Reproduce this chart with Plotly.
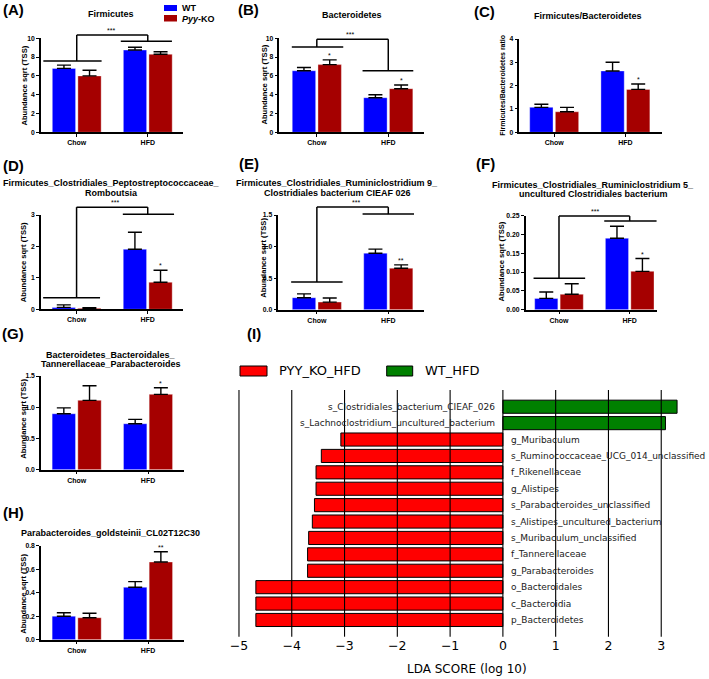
import plotly.graph_objects as go

W, H = 709, 679

# ---------------- data ----------------
categories = ["Chow", "HFD"]

firm_wt = [6.8, 8.75]
firm_wt_err = [0.35, 0.30]
firm_ko = [6.0, 8.3]
firm_ko_err = [0.60, 0.27]

bact_wt = [6.55, 3.68]
bact_wt_err = [0.35, 0.32]
bact_ko = [7.2, 4.64]
bact_ko_err = [0.50, 0.39]

ratio_wt = [1.07, 2.63]
ratio_wt_err = [0.13, 0.37]
ratio_ko = [0.88, 1.84]
ratio_ko_err = [0.19, 0.23]

romb_wt = [0.06, 1.91]
romb_wt_err = [0.08, 0.54]
romb_ko = [0.03, 0.86]
romb_ko_err = [0.02, 0.38]

rum9_wt = [0.19, 0.895]
rum9_wt_err = [0.06, 0.065]
rum9_ko = [0.12, 0.657]
rum9_ko_err = [0.065, 0.053]

rum5_wt = [0.030, 0.190]
rum5_wt_err = [0.017, 0.032]
rum5_ko = [0.041, 0.102]
rum5_ko_err = [0.028, 0.034]

parab_wt = [0.896, 0.736]
parab_wt_err = [0.094, 0.070]
parab_ko = [1.11, 1.206]
parab_ko_err = [0.234, 0.106]

gold_wt = [0.200, 0.446]
gold_wt_err = [0.030, 0.048]
gold_ko = [0.187, 0.661]
gold_ko_err = [0.038, 0.088]

lda_features = [
    "s_Clostridiales_bacterium_CIEAF_026",
    "s_Lachnoclostridium_uncultured_bacterium",
    "g_Muribaculum",
    "s_Ruminococcaceae_UCG_014_unclassified",
    "f_Rikenellaceae",
    "g_Alistipes",
    "s_Parabacteroides_unclassified",
    "s_Alistipes_uncultured_bacterium",
    "s_Muribaculum_unclassified",
    "f_Tannerellaceae",
    "g_Parabacteroides",
    "o_Bacteroidales",
    "c_Bacteroidia",
    "p_Bacteroidetes",
]
lda_scores = [3.30, 3.08, -3.07, -3.44, -3.54, -3.54, -3.57, -3.61, -3.68,
              -3.70, -3.70, -4.68, -4.68, -4.68]
lda_groups = ["WT_HFD", "WT_HFD"] + ["PYY_KO_HFD"] * 12
lda_ticks = [-5, -4, -3, -2, -1, 0, 1, 2, 3]

# ---------------- styling ----------------
BLUE = "#0000FF"
RED = "#A50000"
AR = "Liberation Sans, Arial, sans-serif"
DV = "DejaVu Sans, sans-serif"
BARGAP = 0.28
KO_OFF = (1 - BARGAP) / 4


def pxX(p):
    return p / W


def pxY(p):
    return 1 - p / H


def label(x, y, text, font, **kw):
    d = dict(x=pxX(x), y=pxY(y), xref="paper", yref="paper", text=text,
             showarrow=False, xanchor="center", yanchor="middle", font=font)
    d.update(kw)
    return d


panels = [
    dict(letter="(A)", lpos=(13, 10), title=["Firmicutes"], tpos=(110.7, 13.5),
         ytitle="Abundance sqrt (TSS)", ytpos=(23.5, 85),
         wt=firm_wt, wte=firm_wt_err, ko=firm_ko, koe=firm_ko_err,
         box=(41, 183.3, 38.3, 132.3), xr=[-0.503, 1.5], ymax=10,
         ticks=[0, 2, 4, 6, 8, 10], fmt="d", stars=[None, None],
         br=dict(c=(7.59, -0.47, 0.35), h=(9.68, -0.38, 0.34), top=10.35, sx=0.48)),
    dict(letter="(B)", lpos=(248, 10), title=["Bacteroidetes"], tpos=(351.7, 15),
         ytitle="Abundance sqrt (TSS)", ytpos=(263.5, 85),
         wt=bact_wt, wte=bact_wt_err, ko=bact_ko, koe=bact_ko_err,
         box=(279.3, 424, 38.3, 132.3), xr=[-0.525, 1.5], ymax=10,
         ticks=[0, 2, 4, 6, 8, 10], fmt="d", stars=["*", "*"],
         br=dict(c=(9.07, -0.35, 0.37), h=(6.55, -0.36, 0.35), top=9.9, sx=0.47)),
    dict(letter="(C)", lpos=(484, 11), title=["Firmicutes/Bacteroidetes"], tpos=(588.3, 16),
         ytitle="Firmicutes/Bacteroidetes ratio", ytpos=(501.7, 85), ytsize=7.0,
         wt=ratio_wt, wte=ratio_wt_err, ko=ratio_ko, koe=ratio_ko_err,
         box=(519.3, 661.7, 39, 132.3), xr=[-0.49, 1.51], ymax=4,
         ticks=[0, 1, 2, 3, 4], fmt="d", stars=[None, "*"], br=None),
    dict(letter="(D)", lpos=(13, 165),
         title=["Firmicutes_Clostridiales_Peptostreptococcaceae_", "Romboutsia"],
         tpos=(111, 183.3),
         ytitle="Abundance sqrt (TSS)", ytpos=(23.5, 261.7),
         wt=romb_wt, wte=romb_wt_err, ko=romb_ko, koe=romb_ko_err,
         box=(41, 183.3, 215, 309.3), xr=[-0.5, 1.5], ymax=3,
         ticks=[0, 1, 2, 3], fmt="d", stars=[None, "*"],
         br=dict(c=(0.37, -0.47, 0.33), h=(3.02, -0.35, 0.37), top=3.25, sx=0.54)),
    dict(letter="(E)", lpos=(248.5, 163.5),
         title=["Firmicutes_Clostridiales_Ruminiclostridium 9_",
                "Clostridiales bacterium CIEAF 026"],
         tpos=(337.3, 183.3),
         ytitle="Abundance sqrt (TSS)", ytpos=(263.5, 258.3),
         wt=rum9_wt, wte=rum9_wt_err, ko=rum9_ko, koe=rum9_ko_err,
         box=(278.3, 424, 215, 309.7), xr=[-0.54, 1.5], ymax=1.5,
         ticks=[0, 0.5, 1.0, 1.5], fmt=".1f", stars=[None, "**"],
         br=dict(c=(0.44, -0.36, 0.36), h=(1.514, -0.36, 0.36), top=1.625, sx=0.55)),
    dict(letter="(F)", lpos=(485, 163.5),
         title=["Firmicutes_Clostridiales_Ruminiclostridium 5_",
                "uncultured Clostridiales bacterium"],
         tpos=(593.3, 185),
         ytitle="Abundance sqrt (TSS)", ytpos=(501.7, 261.7),
         wt=rum5_wt, wte=rum5_wt_err, ko=rum5_ko, koe=rum5_ko_err,
         box=(525.7, 656.7, 215.7, 309.7), xr=[-0.471, 1.382], ymax=0.25,
         ticks=[0, 0.05, 0.10, 0.15, 0.20, 0.25], fmt=".2f", stars=[None, "*"],
         br=dict(c=(0.0835, -0.36, 0.37), h=(0.236, -0.36, 0.38), top=0.249, sx=0.51)),
    dict(letter="(G)", lpos=(12.5, 333.3),
         title=["Bacteroidetes_Bacteroidales_", "Tannerellaceae_Parabacteroides"],
         tpos=(110.5, 355),
         ytitle="Abundance sqrt (TSS)", ytpos=(23.5, 418.3),
         wt=parab_wt, wte=parab_wt_err, ko=parab_ko, koe=parab_ko_err,
         box=(41, 183.7, 376, 469.7), xr=[-0.5, 1.5], ymax=1.5,
         ticks=[0, 0.5, 1.0, 1.5], fmt=".1f", stars=[None, "*"], br=None),
    dict(letter="(H)", lpos=(13, 512.7),
         title=["Parabacteroides_goldsteinii_CL02T12C30"], tpos=(110.7, 533.3),
         ytitle="Abundance sqrt (TSS)", ytpos=(23.5, 593.3),
         wt=gold_wt, wte=gold_wt_err, ko=gold_ko, koe=gold_ko_err,
         box=(41, 183.7, 545.7, 639.7), xr=[-0.5, 1.5], ymax=0.8,
         ticks=[0, 0.2, 0.4, 0.6, 0.8], fmt=".1f", stars=[None, "**"], br=None),
]

fig = go.Figure()
shapes = []
annotations = []
layout_axes = {}

for i, p in enumerate(panels, start=1):
    sfx = "" if i == 1 else str(i)
    xa, ya = "x" + sfx, "y" + sfx
    l, r, t, b = p["box"]
    layout_axes["xaxis" + sfx] = dict(
        domain=[pxX(l), pxX(r)], range=p["xr"], anchor=ya, type="category",
        showline=True, linecolor="black", linewidth=1.5, ticks="outside",
        ticklen=3, tickwidth=1.3, tickcolor="black", showgrid=False,
        zeroline=False, fixedrange=True, ticklabelstandoff=0,
        tickfont=dict(family=AR, size=7, color="black", weight="bold"))
    layout_axes["yaxis" + sfx] = dict(
        domain=[pxY(b), pxY(t)], range=[0, p["ymax"]], anchor=xa,
        showline=True, linecolor="black", linewidth=1.5, ticks="outside",
        ticklen=3, tickwidth=1.3, tickcolor="black", showgrid=False,
        zeroline=False, tickvals=p["ticks"], tickformat=p["fmt"], fixedrange=True,
        tickfont=dict(family=AR, size=6.8, color="black", weight="bold"))

    for vals, errs, col, name in ((p["wt"], p["wte"], BLUE, "WT"),
                                  (p["ko"], p["koe"], RED, "Pyy-KO")):
        fig.add_trace(go.Bar(
            x=categories, y=vals, name=name, marker_color=col,
            marker_line=dict(width=0.6, color="rgba(255,255,255,0.6)"),
            error_y=dict(type="data", array=errs, arrayminus=[0] * len(errs),
                         symmetric=False, color="black", thickness=1.4, width=7),
            xaxis=xa, yaxis=ya, showlegend=False))

    # stars above KO bars
    for ci, s in enumerate(p["stars"]):
        if s:
            annotations.append(dict(
                x=ci + KO_OFF, y=p["ko"][ci] + p["koe"][ci], xref=xa, yref=ya,
                text=s, showarrow=False, xanchor="center", yanchor="bottom", yshift=-1,
                font=dict(family=AR, size=7, color="black")))

    # brackets (domain-referenced so they can sit above the axis)
    br = p["br"]
    if br:
        r0, r1 = p["xr"]
        fx = lambda v: (v - r0) / (r1 - r0)
        fy = lambda v: v / p["ymax"]
        ln = dict(color="black", width=1.5)
        for (yv, x0, x1), cx in ((br["c"], 0), (br["h"], 1)):
            shapes.append(dict(type="line", xref=xa + " domain", yref=ya + " domain",
                               x0=fx(cx + x0), x1=fx(cx + x1), y0=fy(yv), y1=fy(yv), line=ln))
            shapes.append(dict(type="line", xref=xa + " domain", yref=ya + " domain",
                               x0=fx(cx), x1=fx(cx), y0=fy(yv), y1=fy(br["top"]), line=ln))
        shapes.append(dict(type="line", xref=xa + " domain", yref=ya + " domain",
                           x0=fx(0), x1=fx(1), y0=fy(br["top"]), y1=fy(br["top"]), line=ln))
        annotations.append(dict(
            x=fx(br["sx"]), y=fy(br["top"]), xref=xa + " domain", yref=ya + " domain",
            text="***", showarrow=False, xanchor="center", yanchor="bottom", yshift=-1,
            font=dict(family=AR, size=7, color="black")))

    # panel letter, title, y title
    annotations.append(label(p["lpos"][0], p["lpos"][1], p["letter"],
                             dict(family=AR, size=15, color="black", weight="bold")))
    for k, line in enumerate(p["title"]):
        annotations.append(label(p["tpos"][0], p["tpos"][1] + 9.2 * k, line,
                                 dict(family=AR, size=9, color="black", weight="bold")))
    annotations.append(label(p["ytpos"][0], p["ytpos"][1], p["ytitle"],
                             dict(family=AR, size=p.get("ytsize", 7.6), color="black",
                                  weight="bold"), textangle=-90))

# legend of panel A
for (y0, y1), col, txt, ty in (((5, 11), BLUE, "WT", 8),
                                ((15, 21.5), RED, "<i>Pyy</i>-KO", 18.5)):
    shapes.append(dict(type="rect", xref="paper", yref="paper", x0=pxX(164), x1=pxX(177),
                       y0=pxY(y1), y1=pxY(y0), fillcolor=col, line=dict(width=0)))
    annotations.append(label(180, ty, txt, dict(family=AR, size=9, color="black",
                                                weight="bold"), xanchor="left"))

# ---------------- LDA panel (I) ----------------
color_map = {"PYY_KO_HFD": "#FF0000", "WT_HFD": "#008000"}
fig.add_trace(go.Bar(
    x=lda_scores, y=lda_features, orientation="h", width=0.8,
    marker=dict(color=[color_map[g] for g in lda_groups],
                line=dict(color="black", width=1)),
    xaxis="x9", yaxis="y9", showlegend=False))

layout_axes["xaxis9"] = dict(
    domain=[pxX(233.7), 1.0], range=[-5.1, 3.905], anchor="y9",
    tickvals=lda_ticks, ticks="", showline=False, showgrid=False, zeroline=False,
    fixedrange=True, tickfont=dict(family=DV, size=12.5, color="black"))
layout_axes["yaxis9"] = dict(
    domain=[pxY(636.7), pxY(390)], range=[len(lda_features) - 1 + 1.02, -1.02],
    anchor="x9", type="category", showticklabels=False, ticks="", showline=False,
    showgrid=False, zeroline=False, fixedrange=True)

for t in lda_ticks:
    shapes.append(dict(type="line", xref="x9", yref="y9 domain", x0=t, x1=t, y0=0, y1=1,
                       line=dict(color="black", width=1.1), layer="above"))

for f, s in zip(lda_features, lda_scores):
    annotations.append(dict(
        x=0, y=f, xref="x9", yref="y9", text=f, showarrow=False,
        xanchor="right" if s > 0 else "left", yanchor="middle",
        xshift=-6 if s > 0 else 6,
        font=dict(family=DV, size=9, color="#1a1a1a")))

annotations.append(label(466.7, 669, "LDA SCORE (log 10)",
                         dict(family=DV, size=12, color="black")))
annotations.append(label(254, 333.3, "(I)",
                         dict(family=AR, size=15, color="black", weight="bold")))

for (x0, x1), grp, tx in (((240, 267), "PYY_KO_HFD", 276.5), ((386.7, 412.7), "WT_HFD", 423)):
    shapes.append(dict(type="rect", xref="paper", yref="paper", x0=pxX(x0), x1=pxX(x1),
                       y0=pxY(376), y1=pxY(366), fillcolor=color_map[grp],
                       line=dict(color="black", width=1)))
    annotations.append(label(tx, 371, grp, dict(family=DV, size=13, color="black"),
                             xanchor="left"))

fig.update_layout(
    width=W, height=H, margin=dict(l=0, r=0, t=0, b=0, autoexpand=False),
    paper_bgcolor="white", plot_bgcolor="white",
    barmode="group", bargap=BARGAP, bargroupgap=0.09,
    shapes=shapes, annotations=annotations, **layout_axes)

fig.write_html("out.html", config={"displayModeBar": False},
               post_script="document.body.style.margin='0';document.body.style.padding='0';")
